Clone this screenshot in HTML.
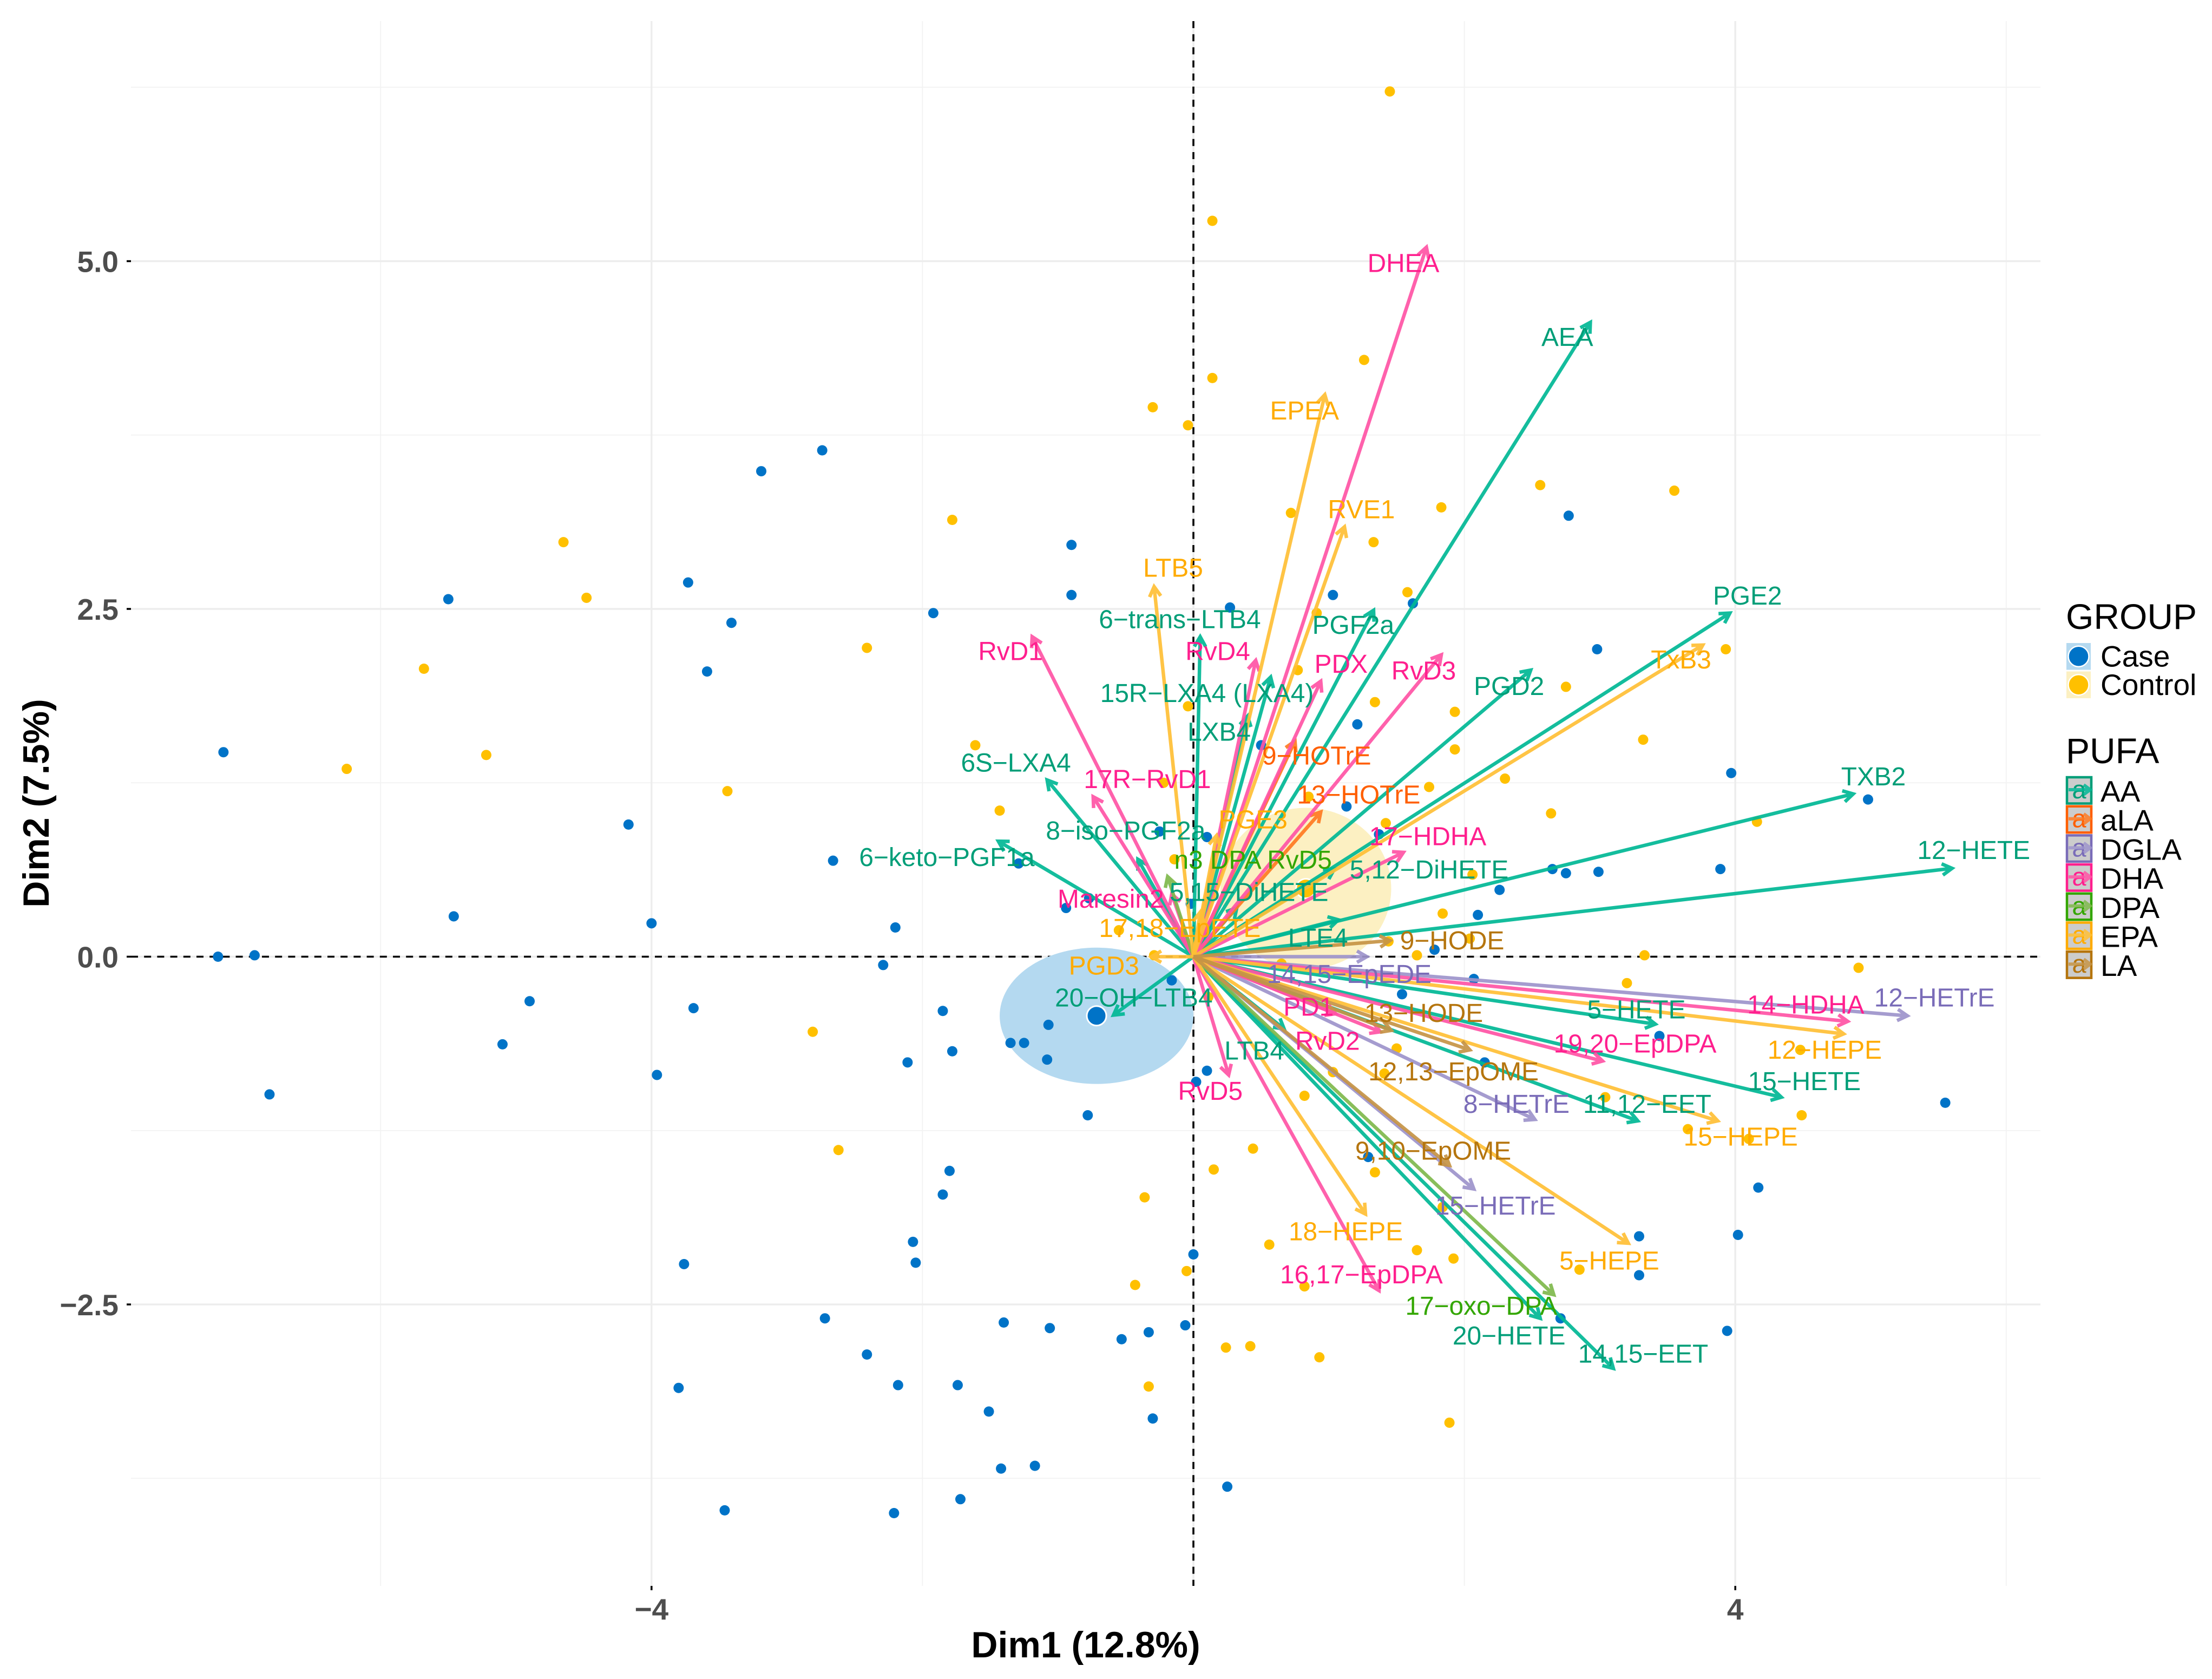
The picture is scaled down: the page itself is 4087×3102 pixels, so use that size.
<!DOCTYPE html>
<html>
<head>
<meta charset="utf-8">
<title>PCA biplot</title>
<style>
html,body{margin:0;padding:0;background:#fff}
svg{display:block}
text{font-family:"Liberation Sans",sans-serif}
</style>
</head>
<body>
<svg id="chart" xmlns="http://www.w3.org/2000/svg" width="4087" height="3102" viewBox="0 0 4087 3102">
<rect width="4087" height="3102" fill="#ffffff"/>
<g id="grid"></g>
<g id="zero"></g>
<g id="ellipses"></g>
<g id="points"></g>
<g id="arrows"></g>
<g id="labels"></g>
<g id="axes"></g>
<text x="2006" y="3062" font-size="68" font-weight="bold" text-anchor="middle" fill="#000">Dim1 (12.8%)</text>
<text transform="translate(90,1484) rotate(-90)" font-size="68" font-weight="bold" text-anchor="middle" fill="#000">Dim2 (7.5%)</text>
<g id="legend"></g>
</svg>
<script>
// ---- axis ticks ----
const xMajorTicks = [-4, 0, 4];
const xMinorTicks = [-6, -2, 2, 6];
const yMajorTicks = [5, 2.5, 0, -2.5];
const yMinorTicks = [6.25, 3.75, 1.25, -1.25, -3.75];
const xTickLabels = ['\u22124', '4'];
const xTickValues = [-4, 4];
const yTickLabels = ['5.0', '2.5', '0.0', '\u22122.5'];
const yTickValues = [5, 2.5, 0, -2.5];

// ---- individuals ----
const caseX = [-7.16,-7.20,-6.93,-6.82,-5.46,-5.50,-4.90,-5.10,-4.17,-4.0,-3.96,-3.69,-3.73,-3.41,-3.59,-3.19,-2.74,-2.66,-2.20,-2.29,-1.92,-1.85,-1.78,-2.11,-1.35,-1.25,-1.08,-1.07,-1.29,-0.94,-0.90,-0.90,-0.78,-0.16,0.10,-0.25,0.27,1.03,1.62,1.21,0.50,1.13,1.37,-0.02,1.78,1.54,2.07,2.10,2.26,2.65,2.75,2.99,3.89,4.98,3.97,2.98,2.77,2.15,3.44,5.55,4.17,4.02,3.29,3.29,3.94,2.71,1.29,0.02,0.10,0,0.25,-0.06,-0.33,-0.53,-1.06,-1.40,-0.30,-1.51,-1.74,-2.18,-2.41,-2.72,-3.80,-3.46,-2.21,-1.72,-1.42,-1.17,-2.05,-2.07,-1.85,-1.80,-3.76,-0.77];
const caseY = [1.47,0.0,0.01,-0.99,0.29,2.57,-0.32,-0.63,0.95,0.24,-0.85,-0.37,2.69,2.40,2.05,3.49,3.64,0.69,0.21,-0.06,2.47,-0.39,-0.68,-0.76,-0.62,-0.62,-0.74,-0.49,0.67,0.35,2.60,2.96,-1.14,-0.17,0.86,0.90,2.51,2.60,2.54,1.67,1.52,1.08,0.88,0.38,0.05,-0.27,-0.16,0.30,0.48,0.63,0.60,0.61,0.63,1.13,1.32,2.21,3.17,-0.76,-0.57,-1.05,-1.66,-2.0,-2.01,-2.29,-2.69,-2.60,-1.44,-0.90,-0.82,-2.14,-3.81,-2.65,-2.70,-2.75,-2.67,-2.63,-3.32,-3.27,-3.08,-3.08,-2.86,-2.60,-3.10,-3.98,-4.0,-3.90,-3.68,-3.66,-2.20,-2.05,-1.71,-1.54,-2.21,0.42];
const controlX = [1.45,0.14,1.26,0.14,-0.30,-0.04,0.72,1.83,1.33,2.56,3.55,1.58,0.91,3.93,2.75,0.77,1.34,1.93,1.93,3.32,-1.78,-4.65,-4.48,-5.68,-6.25,-5.22,-3.44,-2.41,-1.61,-1.43,-0.04,-0.22,-0.14,-0.55,1.74,2.30,2.64,4.16,4.91,3.33,3.20,2.06,1.84,1.42,0.85,2.04,1.65,4.48,4.49,3.65,4.10,3.04,1.03,1.50,1.34,2.85,0.15,0.44,-0.36,0.56,1.65,1.92,0.82,-0.43,-0.05,1.89,0.24,0.42,0.93,-0.33,-2.62,-2.81,-0.29,0.82,1.41,1.84,0.65,1.44,0.11];
const controlY = [6.22,5.29,4.29,4.16,3.95,3.82,3.19,3.23,2.98,3.39,3.35,2.62,2.47,2.21,1.94,2.06,1.83,1.76,1.49,1.56,3.14,2.98,2.58,2.07,1.35,1.45,1.19,2.22,1.52,1.05,1.80,1.25,0.70,0.19,1.22,1.28,1.03,0.97,-0.08,0.01,-0.19,0.59,0.31,0.96,1.15,0.13,0.01,-0.67,-1.14,-1.24,-1.31,-1.01,-0.83,-0.66,-1.55,-2.25,-1.53,-1.38,-1.73,-2.07,-2.11,-2.17,-2.37,-2.36,-2.26,-3.35,-2.81,-2.80,-2.88,-3.09,-1.39,-0.54,0.01,-1.0,-0.84,-1.80,-0.05,0.11,-0.29];

// ---- group means and concentration ellipses (data units) ----
const groupNames = ['case', 'control'];
const groupMeanX = [-0.715, 0.83];
const groupMeanY = [-0.425, 0.49];
const groupRadiusX = [0.715, 0.63];
const groupRadiusY = [0.49, 0.58];

// ---- variables (arrow tips) ----
const variableNames = ['AEA','PGE2','PGD2','TXB2','12\u2212HETE','PGF2a','6\u2212trans\u2212LTB4','15R\u2212LXA4 (LXA4)','LXB4','6S\u2212LXA4','6\u2212keto\u2212PGF1a','8\u2212iso\u2212PGF2a','5,15\u2212DiHETE','5,12\u2212DiHETE','LTE4','20\u2212OH\u2212LTB4','5\u2212HETE','15\u2212HETE','11,12\u2212EET','20\u2212HETE','14,15\u2212EET','LTB4',
'9\u2212HOTrE','13\u2212HOTrE',
'14,15\u2212EpEDE','12\u2212HETrE','8\u2212HETrE','15\u2212HETrE',
'DHEA','RvD1','RvD4','PDX','RvD3','17R\u2212RvD1','Maresin2','17\u2212HDHA','14\u2212HDHA','19,20\u2212EpDPA','PD1','RvD2','RvD5','16,17\u2212EpDPA',
'n3 DPA RvD5','17\u2212oxo\u2212DPA',
'EPEA','RVE1','LTB5','TxB3','PGE3','17,18\u2212EpETE','PGD3','12\u2212HEPE','15\u2212HEPE','18\u2212HEPE','5\u2212HEPE',
'9\u2212HODE','13\u2212HODE','12,13\u2212EpOME','9,10\u2212EpOME'];
const variableGroups = ['AA','AA','AA','AA','AA','AA','AA','AA','AA','AA','AA','AA','AA','AA','AA','AA','AA','AA','AA','AA','AA','AA',
'aLA','aLA',
'DGLA','DGLA','DGLA','DGLA',
'DHA','DHA','DHA','DHA','DHA','DHA','DHA','DHA','DHA','DHA','DHA','DHA','DHA','DHA',
'DPA','DPA',
'EPA','EPA','EPA','EPA','EPA','EPA','EPA','EPA','EPA','EPA','EPA',
'LA','LA','LA','LA'];
const variableX = [2.93,3.96,2.49,4.87,5.60,1.33,0.05,0.57,0.40,-1.08,-1.44,-0.41,0.32,1.04,1.07,-0.59,3.41,4.34,3.28,2.56,3.10,0.67,
0.75,0.94,
1.28,5.27,2.52,2.07,
1.72,-1.19,0.46,0.94,1.83,-0.74,-0.16,1.55,4.83,3.02,1.05,1.38,0.26,1.37,
-0.19,2.66,
0.97,1.115,-0.29,3.76,0.17,0.05,-0.31,4.80,3.87,1.27,3.21,
1.45,2.04,1.46,1.89];
const variableY = [4.56,2.47,2.06,1.17,0.635,2.49,2.30,2.01,1.73,1.27,0.83,0.70,0.35,0.63,0.265,-0.42,-0.485,-1.01,-1.18,-2.60,-2.96,-0.52,
1.55,1.04,
0,-0.425,-1.17,-1.67,
5.10,2.30,2.13,1.98,2.17,1.15,0.45,0.75,-0.465,-0.75,-0.41,-0.54,-0.85,-2.40,
0.575,-2.43,
4.04,3.09,2.66,2.24,0.87,0.32,0,-0.555,-1.18,-1.85,-2.06,
0.115,-0.67,-0.53,-1.50];
const labelX = [2.76,4.09,2.33,5.02,5.76,1.18,-0.10,0.10,0.19,-1.31,-1.82,-0.50,0.41,1.74,0.92,-0.44,3.27,4.51,3.35,2.33,3.32,0.45,
0.91,1.22,
1.15,5.47,2.385,2.23,
1.55,-1.35,0.18,1.09,1.70,-0.34,-0.61,1.73,4.52,3.26,0.85,0.99,0.125,1.24,
0.44,2.125,
0.82,1.24,-0.15,3.60,0.44,-0.10,-0.66,4.66,4.04,1.125,3.07,
1.91,1.70,1.92,1.77];
const labelY = [4.45,2.59,1.94,1.29,0.76,2.38,2.42,1.89,1.61,1.39,0.71,0.90,0.46,0.62,0.13,-0.30,-0.385,-0.90,-1.065,-2.73,-2.86,-0.68,
1.44,1.16,
-0.13,-0.30,-1.065,-1.795,
4.98,2.19,2.19,2.10,2.05,1.27,0.41,0.86,-0.35,-0.63,-0.365,-0.61,-0.97,-2.29,
0.69,-2.515,
3.92,3.21,2.79,2.13,0.98,0.20,-0.07,-0.675,-1.30,-1.98,-2.19,
0.11,-0.41,-0.83,-1.40];

// ---- legend ----
const pufaNames = ['AA','aLA','DGLA','DHA','DPA','EPA','LA'];
const pufaTextColors = ['#009e78','#ff5f00','#7a6cb8','#ff1f8e','#33a600','#ffab00','#b5750e'];
const pufaArrowColors = ['#00b795','#ff7a22','#9d94cb','#ff54a5','#7fb84c','#ffbf35','#c69445'];
const groupLabels = ['Case','Control'];
const groupColors = ['#0073c7','#ffc000'];
const groupFills = ['#b4d9f0','#fcf0c2'];

// ---- scales ----
const X0 = 2205, Y0 = 1767.5, PX = 250.3, PY = 257;
const PANEL_L = 242, PANEL_R = 3770, PANEL_T = 39, PANEL_B = 2930;
function sx(v){ return X0 + v * PX; }
function sy(v){ return Y0 - v * PY; }
const NS = 'http://www.w3.org/2000/svg';
function mk(tag, parent, attrs){
  const el = document.createElementNS(NS, tag);
  for (const k in attrs) el.setAttribute(k, attrs[k]);
  parent.appendChild(el);
  return el;
}

// grid
const gridG = document.getElementById('grid');
xMinorTicks.forEach(function(v){
  const el = mk('line', gridG, {x1:sx(v), x2:sx(v), y1:PANEL_T, y2:PANEL_B, stroke:'#f2f2f2', 'stroke-width':1.8});
  
  
});
yMinorTicks.forEach(function(v){
  const el = mk('line', gridG, {x1:PANEL_L, x2:PANEL_R, y1:sy(v), y2:sy(v), stroke:'#f2f2f2', 'stroke-width':1.8});
  
  
});
xMajorTicks.forEach(function(v){
  const el = mk('line', gridG, {x1:sx(v), x2:sx(v), y1:PANEL_T, y2:PANEL_B, stroke:'#ededed', 'stroke-width':3.5});
  
  
});
yMajorTicks.forEach(function(v){
  const el = mk('line', gridG, {x1:PANEL_L, x2:PANEL_R, y1:sy(v), y2:sy(v), stroke:'#ededed', 'stroke-width':3.5});
  
  
});

// zero lines
const zeroG = document.getElementById('zero');
const zeroH = mk('line', zeroG, {x1:PANEL_L, x2:PANEL_R, y1:sy(0), y2:sy(0), stroke:'#000', 'stroke-width':3.6, 'stroke-dasharray':'13 11.2'});


const zeroV = mk('line', zeroG, {x1:sx(0), x2:sx(0), y1:PANEL_T, y2:PANEL_B, stroke:'#000', 'stroke-width':3.6, 'stroke-dasharray':'13 11.2'});



// ellipses
const ellG = document.getElementById('ellipses');
groupNames.forEach(function(n, i){
  const el = mk('ellipse', ellG, {cx:sx(groupMeanX[i]), cy:sy(groupMeanY[i]), rx:groupRadiusX[i]*PX, ry:groupRadiusY[i]*PY, fill:groupFills[i]});
  
  
});

// points
const ptG = document.getElementById('points');
caseX.forEach(function(v, i){
  const el = mk('circle', ptG, {cx:sx(v), cy:sy(caseY[i]), r:9.5, fill:groupColors[0]});
  
  
});
controlX.forEach(function(v, i){
  const el = mk('circle', ptG, {cx:sx(v), cy:sy(controlY[i]), r:9.5, fill:groupColors[1]});
  
  
});
groupNames.forEach(function(n, i){
  const el = mk('circle', ptG, {cx:sx(groupMeanX[i]), cy:sy(groupMeanY[i]), r:18, fill:groupColors[i], stroke:'#fff', 'stroke-width':3});
  
  
});

// arrows
const arrG = document.getElementById('arrows');
const HEAD = 21, ANG = 0.52;
variableNames.forEach(function(name, i){
  const g = pufaNames.indexOf(variableGroups[i]);
  const tx = sx(variableX[i]), ty = sy(variableY[i]);
  const a = Math.atan2(ty - Y0, tx - X0);
  const d = 'M' + X0 + ' ' + Y0 + 'L' + tx.toFixed(1) + ' ' + ty.toFixed(1) +
    'M' + (tx - HEAD*Math.cos(a-ANG)).toFixed(1) + ' ' + (ty - HEAD*Math.sin(a-ANG)).toFixed(1) +
    'L' + tx.toFixed(1) + ' ' + ty.toFixed(1) +
    'L' + (tx - HEAD*Math.cos(a+ANG)).toFixed(1) + ' ' + (ty - HEAD*Math.sin(a+ANG)).toFixed(1);
  const el = mk('path', arrG, {d:d, fill:'none', stroke:pufaArrowColors[g], 'stroke-width':6.5, 'stroke-opacity':0.92});
  
  
});

// labels
const lblG = document.getElementById('labels');
variableNames.forEach(function(name, i){
  const g = pufaNames.indexOf(variableGroups[i]);
  const el = mk('text', lblG, {x:sx(labelX[i]), y:sy(labelY[i]) + 15, 'font-size':47.8, 'text-anchor':'middle', fill:pufaTextColors[g]});
  el.textContent = name;
  
  
});

// axes
const axG = document.getElementById('axes');
xTickValues.forEach(function(v, i){
  const t = mk('rect', axG, {x:sx(v)-1.75, y:PANEL_B, width:3.5, height:8, fill:'#000'});
  
  
  const el = mk('text', axG, {x:sx(v), y:2992, 'font-size':55, 'font-weight':'bold', 'text-anchor':'middle', fill:'#4d4d4d'});
  el.textContent = xTickLabels[i];
  
  
});
yTickValues.forEach(function(v, i){
  const t = mk('rect', axG, {x:PANEL_L-8, y:sy(v)-1.75, width:8, height:3.5, fill:'#000'});
  
  
  const el = mk('text', axG, {x:219, y:sy(v)+20, 'font-size':55, 'font-weight':'bold', 'text-anchor':'end', fill:'#4d4d4d'});
  el.textContent = yTickLabels[i];
  
  
});

// legend
const legG = document.getElementById('legend');
const groupTitle = mk('text', legG, {x:3817, y:1162, 'font-size':66, fill:'#000'});
groupTitle.textContent = 'GROUP';


groupLabels.forEach(function(n, i){
  const top = 1188 + i * 52.5;
  const k = mk('rect', legG, {x:3818, y:top, width:45, height:49.5, fill:groupFills[i]});
  
  
  const c = mk('circle', legG, {cx:3840.5, cy:top+24.7, r:19, fill:groupColors[i], stroke:'#fff', 'stroke-width':2.5});
  
  
  const t = mk('text', legG, {x:3881, y:top+43.5, 'font-size':55, fill:'#000'});
  t.textContent = n;
  
  
});
const pufaTitle = mk('text', legG, {x:3817, y:1410, 'font-size':66, fill:'#000'});
pufaTitle.textContent = 'PUFA';


pufaNames.forEach(function(n, i){
  const top = 1434 + i * 53.7;
  const k = mk('rect', legG, {x:3819, y:top+2, width:45, height:48.5, fill:'#cccccc', stroke:pufaTextColors[i], 'stroke-width':4.5});
  
  
  const a = mk('text', legG, {x:3841.5, y:top+41, 'font-size':47, 'text-anchor':'middle', fill:pufaTextColors[i]});
  a.textContent = 'a';
  
  
  const ar = mk('path', legG, {d:'M3822 ' + (top+25) + 'H3862M3850 ' + (top+16) + 'L3862 ' + (top+25) + 'L3850 ' + (top+34), fill:'none', stroke:pufaArrowColors[i], 'stroke-width':6, 'stroke-opacity':0.85});
  
  
  const t = mk('text', legG, {x:3881, y:top+47, 'font-size':55, fill:'#000'});
  t.textContent = n;
  
  
});
</script>
</body>
</html>
